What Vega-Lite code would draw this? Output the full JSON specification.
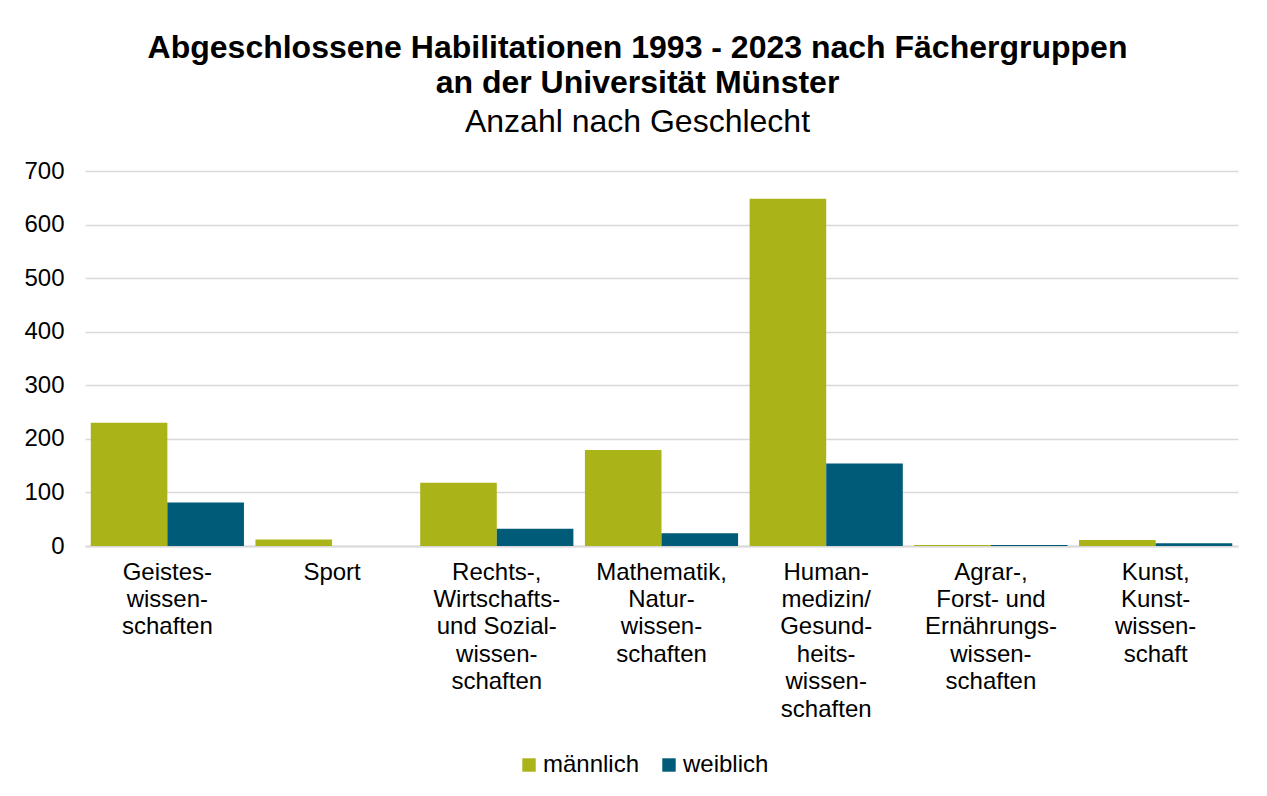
{
  "$schema": "https://vega.github.io/schema/vega-lite/v6.json",
  "width": 1153,
  "height": 375,
  "autosize": {"type": "none"},
  "padding": {"left": 85, "top": 171, "right": 29, "bottom": 250},
  "background": "white",
  "title": {
    "text": ["Abgeschlossene Habilitationen 1993 - 2023 nach Fächergruppen", "an der Universität Münster"],
    "subtitle": "Anzahl nach Geschlecht",
    "font": "Liberation Sans",
    "fontSize": 32,
    "fontWeight": "bold",
    "lineHeight": 35,
    "subtitleFont": "Liberation Sans",
    "subtitleFontSize": 32,
    "subtitleColor": "black",
    "subtitlePadding": 7,
    "color": "black",
    "anchor": "middle",
    "dx": -24,
    "offset": 20
  },
  "data": {
    "values": [
      {"fach": "Geistes-|wissen-|schaften", "geschlecht": "männlich", "anzahl": 230},
      {"fach": "Geistes-|wissen-|schaften", "geschlecht": "weiblich", "anzahl": 81},
      {"fach": "Sport", "geschlecht": "männlich", "anzahl": 12},
      {"fach": "Sport", "geschlecht": "weiblich", "anzahl": 0},
      {"fach": "Rechts-,|Wirtschafts-|und Sozial-|wissen-|schaften", "geschlecht": "männlich", "anzahl": 118},
      {"fach": "Rechts-,|Wirtschafts-|und Sozial-|wissen-|schaften", "geschlecht": "weiblich", "anzahl": 32},
      {"fach": "Mathematik,|Natur-|wissen-|schaften", "geschlecht": "männlich", "anzahl": 179},
      {"fach": "Mathematik,|Natur-|wissen-|schaften", "geschlecht": "weiblich", "anzahl": 24},
      {"fach": "Human-|medizin/|Gesund-|heits-|wissen-|schaften", "geschlecht": "männlich", "anzahl": 648},
      {"fach": "Human-|medizin/|Gesund-|heits-|wissen-|schaften", "geschlecht": "weiblich", "anzahl": 154},
      {"fach": "Agrar-,|Forst- und|Ernährungs-|wissen-|schaften", "geschlecht": "männlich", "anzahl": 2},
      {"fach": "Agrar-,|Forst- und|Ernährungs-|wissen-|schaften", "geschlecht": "weiblich", "anzahl": 2},
      {"fach": "Kunst,|Kunst-|wissen-|schaft", "geschlecht": "männlich", "anzahl": 11},
      {"fach": "Kunst,|Kunst-|wissen-|schaft", "geschlecht": "weiblich", "anzahl": 5}
    ]
  },
  "mark": {"type": "bar"},
  "encoding": {
    "x": {
      "field": "fach",
      "type": "nominal",
      "sort": null,
      "title": null,
      "scale": {"paddingInner": 0.07, "paddingOuter": 0.035},
      "axis": {
        "labelExpr": "split(datum.label, '|')",
        "labelAngle": 0,
        "labelFont": "Liberation Sans",
        "labelFontSize": 24,
        "labelLineHeight": 27.4,
        "labelColor": "black",
        "labelPadding": 14,
        "ticks": false,
        "domainColor": "#D9D9D9",
        "domainWidth": 2,
        "labelLimit": 0
      }
    },
    "xOffset": {"field": "geschlecht", "type": "nominal", "sort": ["männlich", "weiblich"]},
    "y": {
      "field": "anzahl",
      "type": "quantitative",
      "title": null,
      "scale": {"domain": [0, 700]},
      "axis": {
        "values": [0, 100, 200, 300, 400, 500, 600, 700],
        "labelFont": "Liberation Sans",
        "labelFontSize": 24,
        "labelColor": "black",
        "labelPadding": 21,
        "ticks": false,
        "domain": false,
        "gridColor": "#D9D9D9",
        "gridWidth": 1.5
      }
    },
    "color": {
      "field": "geschlecht",
      "type": "nominal",
      "scale": {"domain": ["männlich", "weiblich"], "range": ["#AAB318", "#005B78"]},
      "legend": {
        "title": null,
        "orient": "none",
        "direction": "horizontal",
        "legendX": 432,
        "legendY": 582,
        "symbolType": "square",
        "symbolSize": 180,
        "symbolStrokeWidth": 0,
        "labelFont": "Liberation Sans",
        "labelFontSize": 24,
        "labelColor": "black",
        "labelOffset": 2,
        "columnPadding": 17
      }
    }
  },
  "config": {
    "view": {"stroke": null}
  }
}
